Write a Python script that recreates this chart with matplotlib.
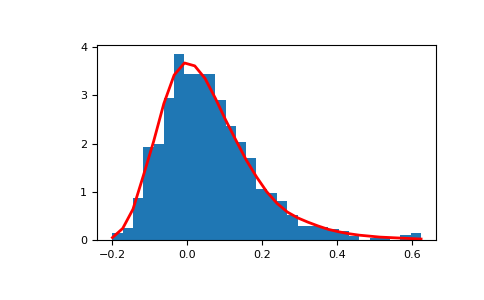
import numpy as np
import matplotlib
matplotlib.use("Agg")
import matplotlib.pyplot as plt

# histogram range and bin count
BIN_LO = -0.199
BIN_HI = 0.625
N_BINS = 30

# bar heights (density), one per bin
heights = [0.14, 0.25, 0.87, 1.93, 1.98, 2.95, 3.85, 3.44, 3.44, 3.44,
           2.90, 2.36, 2.03, 1.70, 1.06, 0.97, 0.81, 0.52, 0.30, 0.30,
           0.26, 0.23, 0.19, 0.09, 0.00, 0.05, 0.05, 0.00, 0.10, 0.15]

# red curve, sampled at the bin edges
curve = [0.05, 0.24, 0.64, 1.33, 2.04, 2.83, 3.42, 3.67, 3.61, 3.35,
         2.94, 2.49, 2.07, 1.66, 1.31, 1.00, 0.76, 0.58, 0.46, 0.37,
         0.29, 0.22, 0.17, 0.13, 0.10, 0.08, 0.06, 0.05, 0.04, 0.03,
         0.02]

xticks = [-0.2, 0.0, 0.2, 0.4, 0.6]
yticks = [0, 1, 2, 3, 4]


def main():
  plt.rcParams['font.size'] = 8
  edges = np.linspace(BIN_LO, BIN_HI, N_BINS + 1)

  fig = plt.figure(figsize=(4.85, 3.0), dpi=100)
  ax = fig.add_axes([0.2, 0.2, 0.7, 0.65])

  ax.hist(edges[:-1], bins=edges, weights=heights, color='#1f77b4')
  ax.plot(edges, curve, color='red', linewidth=2)

  ax.set_xticks(xticks)
  ax.set_yticks(yticks)

  fig.savefig('out.png', dpi=100)


if __name__ == "__main__":
  main()
